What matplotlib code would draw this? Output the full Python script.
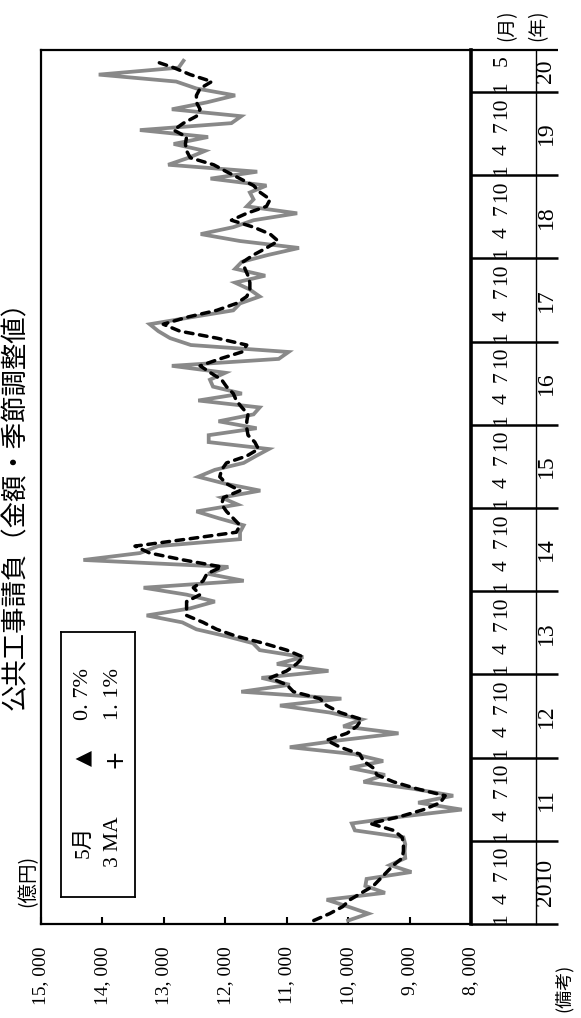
import matplotlib
matplotlib.use('Agg')
import matplotlib.pyplot as plt
import numpy as np

W, H = 581, 1018

# monthly values (億円), Jan 2010 .. May 2020
monthly = [10000, 9670, 10000, 10350, 9400, 9720, 9700, 8970, 9320, 9070, 9080, 9070,
           9100, 9890, 9940, 9120, 8150, 8860, 8290, 8940, 9750, 9400, 9970, 9430,
           9900, 10950, 10130, 9180, 10080, 9780, 10300, 11110, 10110, 11740, 10950, 11410,
           10320, 11160, 10730, 11440, 11550, 11980, 12470, 12700, 13280, 12580, 12170, 12630,
           13330, 11700, 12280, 11950, 14310, 13390, 13090, 11760, 11760, 11700, 12100, 12470,
           11800, 12060, 11430, 12000, 12440, 12170, 11700, 11500, 11290, 12270, 12270, 11490,
           12110, 11540, 11440, 12440, 11730, 12200, 12250, 12000, 12870, 11130, 10970, 12560,
           12900, 13090, 13230, 12560, 11870, 11760, 11440, 11600, 11840, 11350, 11840, 11730,
           11300, 10800, 11760, 12400, 11870, 11540, 10830, 11650, 11540, 11600, 11330, 12240,
           11480, 12930, 12600, 12330, 12840, 12280, 13390, 11900, 11740, 12870, 12300, 11840,
           12470, 12800, 14060, 12760, 12680]

# 3-month moving average
ma3 = [10560, 10300, 10090, 9970, 9780, 9590, 9480, 9370, 9260, 9120, 9100, 9100,
       9120, 9260, 9640, 9150, 8770, 8500, 8420, 8880, 9260, 9530, 9590, 9750,
       9810, 10130, 10350, 10020, 9860, 9780, 10130, 10350, 10460, 10890, 11000, 11270,
       11000, 10840, 10730, 11000, 11380, 11820, 12140, 12360, 12630, 12630, 12630, 12410,
       12520, 12360, 12300, 12060, 12680, 13230, 13470, 12630, 11820, 11760, 11870, 11980,
       12060, 12030, 11760, 11980, 12090, 12060, 11980, 11650, 11460, 11520, 11630, 11650,
       11650, 11630, 11730, 11820, 11870, 11980, 12060, 12240, 12410, 12090, 11730, 11650,
       12140, 12740, 13010, 12630, 12140, 11820, 11650, 11600, 11600, 11630, 11680, 11710,
       11540, 11330, 11140, 11270, 11540, 11900, 11650, 11330, 11270, 11430, 11540, 11760,
       11980, 12190, 12570, 12630, 12650, 12630, 12840, 12680, 12470, 12410, 12470, 12470,
       12410, 12220, 12570, 12840, 13170]

value_ticks = [15000, 14000, 13000, 12000, 11000, 10000, 9000, 8000]
value_labels = ['15, 000', '14, 000', '13, 000', '12, 000', '11, 000', '10, 000', '9, 000', '8, 000']
year_labels = ['2010', '11', '12', '13', '14', '15', '16', '17', '18', '19', '20']
month_labels = ['1', '4', '7', '10']
legend_rows = [('5月', '▲', '0. 7%'), ('3 MA', '+', '1. 1%')]
title = '公共工事請負（金額・季節調整値）'

SERIF = ['Liberation Serif', 'Noto Sans CJK JP']
JP = ['Noto Sans CJK JP', 'DejaVu Sans']

fig = plt.figure(figsize=(W / 100, H / 100), dpi=100)


def fx(x):
    return x / W


def fy(y):
    return 1 - y / H


L, R, T, B = 41, 471, 50, 924
YMIN, YMAX = -0.5, 125.55
ax = fig.add_axes([fx(L), fy(B), (R - L) / W, (B - T) / H])
months = np.arange(len(monthly))
ax.plot(monthly, months, color='#898989', lw=2.7, solid_joinstyle='miter', zorder=2)
ax.plot(ma3, months, color='black', lw=2.5, dashes=(2.2, 1.9), dash_capstyle='round', zorder=3)
ax.set_xlim(15000, 8000)
ax.set_ylim(YMIN, YMAX)
for s in ['top', 'left', 'bottom']:
    ax.spines[s].set_linewidth(1.6)
ax.spines['right'].set_linewidth(2.6)
ax.set_yticks([])
ax.set_xticks(value_ticks)
ax.set_xticklabels(value_labels, rotation=90, family=SERIF, fontsize=14)
ax.tick_params(axis='x', direction='in', length=5, width=1.5, pad=16)

# legend box
lg = fig.add_axes([fx(61), fy(897), (135 - 61) / W, (897 - 632) / H])
lg.set_xlim(61, 135)
lg.set_ylim(897, 632)
lg.set_xticks([]); lg.set_yticks([])
for s in lg.spines.values():
    s.set_linewidth(1.3)
cols_x = [84, 114]
for (a, b, c), xx in zip(legend_rows, cols_x):
    lg.text(xx, 842, a, rotation=90, ha='center', va='center', fontsize=15.5, family=SERIF)
    lg.text(xx, 758, b, rotation=90, ha='center', va='center', fontsize=15 if b == '▲' else 17,
            family=['DejaVu Sans'])
    lg.text(xx, 694, c, rotation=90, ha='center', va='center', fontsize=16, family=SERIF)

# time axis label area
ax2 = fig.add_axes([fx(R), fy(B), (560 - R) / W, (B - T) / H])
ax2.set_xlim(R, 560)
ax2.set_ylim(YMIN, YMAX)
ax2.axis('off')
for k in range(11):
    yb = 12 * k - 0.5
    ax2.plot([R, 558], [yb, yb], color='black', lw=1.8, clip_on=False, solid_capstyle='butt')
ax2.plot([R, 558], [YMAX, YMAX], color='black', lw=1.6, clip_on=False, solid_capstyle='butt')
ax2.plot([536, 536], [YMIN, YMAX], color='black', lw=1.0, clip_on=False)
offsets = [0.25, 3.2, 6.5, 9.2]
for k, yl in enumerate(year_labels):
    start = 12 * k
    if k < 10:
        for lab, off in zip(month_labels, offsets):
            ax2.text(502, start + off, lab, rotation=90, ha='center', va='center',
                     fontsize=15.5, family=SERIF)
        ymid = start + 5.5
    else:
        ax2.text(502, start + 0.25, '1', rotation=90, ha='center', va='center',
                 fontsize=15.5, family=SERIF)
        ax2.text(502, start + 4.0, '5', rotation=90, ha='center', va='center',
                 fontsize=15.5, family=SERIF)
        ymid = (start - 0.5 + YMAX) / 2
    ax2.text(546, ymid, yl, rotation=90, ha='center', va='center', fontsize=17, family=SERIF)

# outer texts
fig.text(fx(16), fy(499), title, rotation=90, ha='center', va='center', fontsize=19,
         family=JP)
fig.text(fx(28), fy(881), '(億円)', rotation=90, ha='center', va='center', fontsize=14,
         family=JP)
fig.text(fx(507), fy(25), '(月)', rotation=90, ha='center', va='center', fontsize=13.5,
         family=JP)
fig.text(fx(538), fy(25), '(年)', rotation=90, ha='center', va='center', fontsize=13.5,
         family=JP)
fig.text(fx(564), fy(988), '(備考)', rotation=90, ha='center', va='center', fontsize=13,
         family=JP)

fig.savefig('out.png', dpi=100)
